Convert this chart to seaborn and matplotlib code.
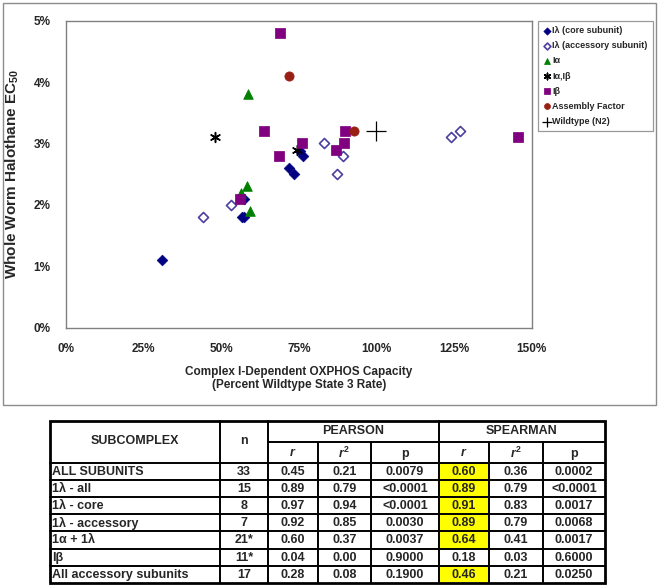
import numpy as np
import matplotlib
matplotlib.use("Agg")
import matplotlib.pyplot as plt
import seaborn as sns
from matplotlib.patches import Rectangle

# scatter data (percent units)
core_x = [31.0, 56.8, 57.4, 57.3, 71.8, 73.5, 75.3, 76.3]
core_y = [1.10, 1.80, 1.80, 2.10, 2.60, 2.50, 2.88, 2.80]
acc_x = [44.0, 53.3, 83.2, 87.4, 89.4, 123.9, 127.0]
acc_y = [1.80, 2.00, 3.00, 2.50, 2.80, 3.10, 3.20]
alpha_x = [56.5, 58.3, 58.8, 59.2]
alpha_y = [2.20, 2.30, 3.80, 1.90]
ab_x = [48.0, 74.3]
ab_y = [3.10, 2.90]
beta_x = [56.2, 63.8, 68.6, 69.0, 76.1, 86.9, 89.6, 89.8, 145.7]
beta_y = [2.10, 3.20, 2.80, 4.80, 3.00, 2.90, 3.00, 3.20, 3.10]
af_x = [71.7, 92.8]
af_y = [4.10, 3.20]
wt_x = [100.0]
wt_y = [3.20]

# table data
subcomplex = ["ALL SUBUNITS", "1λ - all", "1λ - core", "1λ - accessory",
              "1α + 1λ", "Iβ", "All accessory subunits"]
n_vals = ["33", "15", "8", "7", "21*", "11*", "17"]
pearson_r = [0.45, 0.89, 0.97, 0.92, 0.60, 0.04, 0.28]
pearson_r2 = [0.21, 0.79, 0.94, 0.85, 0.37, 0.00, 0.08]
pearson_p = ["0.0079", "<0.0001", "<0.0001", "0.0030", "0.0037", "0.9000", "0.1900"]
spearman_r = [0.60, 0.89, 0.91, 0.89, 0.64, 0.18, 0.46]
spearman_r2 = [0.36, 0.79, 0.83, 0.79, 0.41, 0.03, 0.21]
spearman_p = ["0.0002", "<0.0001", "0.0017", "0.0068", "0.0017", "0.6000", "0.0250"]
highlight = [True, True, True, True, True, False, True]

sns.set_style("white")
plt.rcParams['font.family'] = ['Liberation Sans', 'DejaVu Sans']
plt.rcParams['font.weight'] = 'bold'
plt.rcParams['mathtext.fontset'] = 'custom'
plt.rcParams['mathtext.rm'] = 'Liberation Sans:bold'
plt.rcParams['mathtext.bf'] = 'Liberation Sans:bold'
plt.rcParams['mathtext.it'] = 'Liberation Sans:italic:bold'

W, H = 661, 587
fig = plt.figure(figsize=(W / 100, H / 100), dpi=100)

# background axes in pixel coordinates for frame and table
bg = fig.add_axes([0, 0, 1, 1], zorder=-1)
bg.set_xlim(0, W)
bg.set_ylim(H, 0)
bg.axis("off")
bg.add_patch(Rectangle((3, 3), 653, 402, fill=False, edgecolor="#8c8c8c", lw=1))

ax = fig.add_axes([66 / W, 1 - 327.5 / H, 465.5 / W, 306.8 / H])

groups = [
    (core_x, core_y, "Iλ (core subunit)", dict(marker="D", s=30, color="#000080", edgecolor="#000080")),
    (acc_x, acc_y, "Iλ (accessory subunit)", dict(marker="D", s=26, color="white", edgecolor="#4B3FA0", linewidth=1.2)),
    (alpha_x, alpha_y, "Iα", dict(marker="^", s=48, color="#008000", edgecolor="#008000")),
    (ab_x, ab_y, "Iα,Iβ", dict(marker=(6, 2, 0), s=50, color="black", linewidth=1.1)),
    (beta_x, beta_y, "Iβ", dict(marker="s", s=44, color="#800080", edgecolor="#800080")),
    (af_x, af_y, "Assembly Factor", dict(marker="o", s=44, color="#991f14", edgecolor="#991f14")),
    (wt_x, wt_y, "Wildtype (N2)", dict(marker="+", s=190, color="black", linewidth=0.9)),
]
for gx, gy, lab, kw in groups:
    sns.scatterplot(x=gx, y=gy, ax=ax, label=lab, zorder=3, **kw)

ax.set_xlim(0, 150)
ax.set_ylim(0, 5)
ax.set_xticks(np.arange(0, 151, 25))
ax.set_yticks(np.arange(0, 6, 1))
ax.set_xticklabels([f"{int(t)}%" for t in np.arange(0, 151, 25)])
ax.set_yticklabels([f"{int(t)}%" for t in np.arange(0, 6, 1)])
ax.tick_params(direction="out", length=4, color="#808080", width=0.8,
               pad=7, labelsize=8.5)
for sp in ax.spines.values():
    sp.set_color("#808080")
    sp.set_linewidth(1.0)

ax.set_ylabel("Whole Worm Halothane EC$_{50}$", fontsize=11, fontweight="bold")
ax.yaxis.set_label_coords(-0.097, 0.5)
ax.set_xlabel("Complex I-Dependent OXPHOS Capacity\n(Percent Wildtype State 3 Rate)",
              fontsize=8.5, fontweight="bold", linespacing=1.15, va="top")
ax.xaxis.set_label_coords(0.5, -(366 - 327.5) / 306.8)

leg = ax.legend(loc="upper left", bbox_to_anchor=(1.014, 1.0), borderaxespad=0,
                frameon=True, fancybox=False, edgecolor="#808080", fontsize=6.5,
                handlelength=0.7, handletextpad=0.3, labelspacing=0.68,
                borderpad=0.6)
leg.get_frame().set_linewidth(0.9)
leg_sizes = [14, 12, 18, 22, 16, 18, 45]
for h, sz in zip(leg.legend_handles, leg_sizes):
    h.set_sizes([sz])

# table
col_x = [50, 220, 268, 318, 371, 439, 489, 543, 605]
top, mid, hdr = 421, 442, 463
row_h = 17.1
n_rows = len(subcomplex)
bottom = hdr + n_rows * row_h
fs = 9

for i, hl in enumerate(highlight):
    if hl:
        y0 = hdr + i * row_h
        bg.add_patch(Rectangle((col_x[5] + 1, y0 + 1), col_x[6] - col_x[5] - 2, row_h - 2,
                               facecolor="#ffff00", edgecolor="none"))

lw = 1.4
bg.plot([col_x[1], col_x[1]], [top, bottom], color="black", lw=lw)
bg.plot([col_x[2], col_x[2]], [top, bottom], color="black", lw=lw)
bg.plot([col_x[5], col_x[5]], [top, bottom], color="black", lw=lw)
for c in [3, 4, 6, 7]:
    bg.plot([col_x[c], col_x[c]], [mid, bottom], color="black", lw=lw)
bg.plot([col_x[2], col_x[-1]], [mid, mid], color="black", lw=lw)
for i in range(n_rows):
    yy = hdr + i * row_h
    bg.plot([col_x[0], col_x[-1]], [yy, yy], color="black", lw=lw)
bg.add_patch(Rectangle((col_x[0], top), col_x[-1] - col_x[0], bottom - top,
                       fill=False, edgecolor="black", lw=2))

bg.text((col_x[0] + col_x[1]) / 2, (top + hdr) / 2 - 1, "SUBCOMPLEX", ha="center", va="center", fontsize=fs)
bg.text((col_x[1] + col_x[2]) / 2, (top + hdr) / 2 - 1, "n", ha="center", va="center", fontsize=fs)
bg.text((col_x[2] + col_x[5]) / 2, (top + mid) / 2, "PEARSON", ha="center", va="center", fontsize=fs)
bg.text((col_x[5] + col_x[8]) / 2, (top + mid) / 2, "SPEARMAN", ha="center", va="center", fontsize=fs)
sub_hdr = ["$\\mathit{r}$", "$\\mathit{r}^{2}$", "p"]
for k in range(6):
    bg.text((col_x[2 + k] + col_x[3 + k]) / 2, (mid + hdr) / 2 + 1, sub_hdr[k % 3],
            ha="center", va="center", fontsize=fs)

for i in range(n_rows):
    yc = hdr + (i + 0.5) * row_h + 0.5
    bg.text(col_x[0] + 2, yc, subcomplex[i], ha="left", va="center", fontsize=fs)
    cells = [n_vals[i], f"{pearson_r[i]:.2f}", f"{pearson_r2[i]:.2f}", pearson_p[i],
             f"{spearman_r[i]:.2f}", f"{spearman_r2[i]:.2f}", spearman_p[i]]
    for k, val in enumerate(cells):
        bg.text((col_x[1 + k] + col_x[2 + k]) / 2, yc, val, ha="center", va="center", fontsize=fs)

fig.savefig("out.png", dpi=100)
